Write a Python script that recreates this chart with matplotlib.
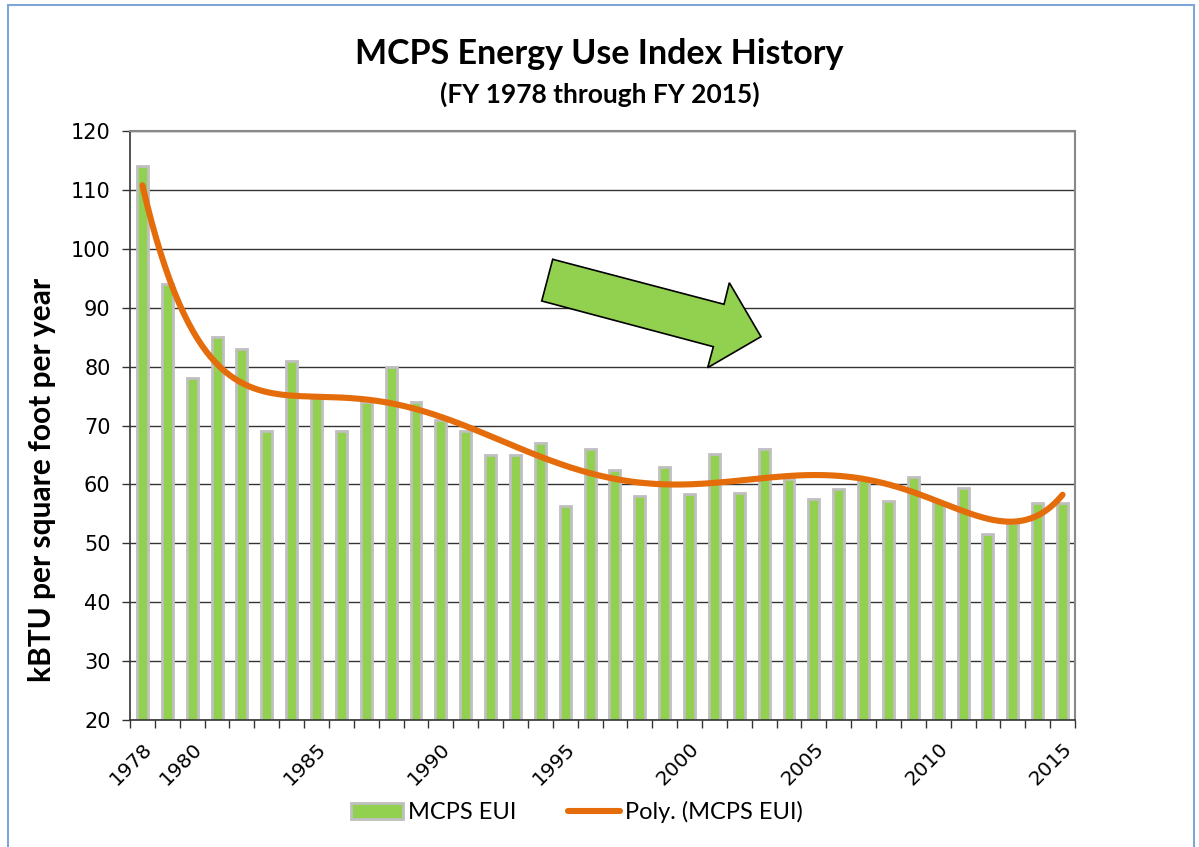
"""
MCPS Energy Use Index history: annual EUI bars with a polynomial trendline.
"""

import matplotlib
matplotlib.use("Agg")
import matplotlib.pyplot as plt
import numpy as np
from matplotlib.lines import Line2D
from matplotlib.patches import Patch, Polygon, Rectangle

# fiscal years and energy use index (kBTU per sq ft per year)
years = list(range(1978, 2016))
eui = [
    114.0, 94.0, 78.0, 85.0, 83.0, 69.0, 81.0, 75.0, 69.0, 74.0,
    80.0, 74.0, 71.0, 69.0, 65.0, 65.0, 67.0, 56.3, 66.0, 62.4,
    58.0, 63.0, 58.3, 65.2, 58.5, 66.0, 61.0, 57.5, 59.2, 60.7,
    57.1, 61.2, 57.0, 59.4, 51.5, 53.5, 56.8, 56.8,
]
labelled_years = [1978, 1980, 1985, 1990, 1995, 2000, 2005, 2010, 2015]
y_ticks = list(range(20, 121, 10))
poly_order = 6

BAR_GREEN = "#92D050"
BAR_EDGE = "#BFBFBF"
TREND_ORANGE = "#E46C0A"
NARROW = ["Lato", "DejaVu Sans"]

fig = plt.figure(figsize=(11.99, 8.47), dpi=100)
ax = fig.add_axes([130 / 1199, 1 - 720 / 847, 945 / 1199, 589 / 847])

x = np.arange(len(years))
ax.bar(x, eui, width=0.44, color=BAR_GREEN, edgecolor=BAR_EDGE, linewidth=2.0, zorder=2)

# Excel-style polynomial trendline (order 6) fitted on category index 1..n
xi = x + 1.0
coef = np.polyfit(xi, eui, poly_order)
xs = np.linspace(xi[0], xi[-1], 400)
ax.plot(xs - 1, np.polyval(coef, xs), color=TREND_ORANGE, lw=4.4,
        solid_capstyle="round", zorder=3)

ax.set_xlim(-0.5, len(years) - 0.5)
ax.set_ylim(20, 120)
ax.set_yticks(y_ticks)
ax.set_yticklabels([str(v) for v in y_ticks], fontsize=15, family="DejaVu Sans")
ax.yaxis.grid(True, color="#333333", lw=1.0, zorder=0)
ax.set_axisbelow(True)

ax.set_xticks([years.index(yr) for yr in labelled_years])
ax.set_xticklabels([str(yr) for yr in labelled_years], rotation=45, ha="right",
                   rotation_mode="anchor", fontsize=14.5, family="DejaVu Sans")
ax.set_xticks(np.arange(-0.5, len(years)), minor=True)
ax.tick_params(axis="x", which="major", length=0, pad=14)
ax.tick_params(axis="x", which="minor", length=6, width=1, color="#333333", direction="out")
ax.tick_params(axis="y", length=6, width=1, color="#333333", direction="out", pad=8)

for side in ("left", "bottom"):
    ax.spines[side].set_color("#333333")
    ax.spines[side].set_linewidth(1.2)
for side in ("top", "right"):
    ax.spines[side].set_color("#888888")
    ax.spines[side].set_linewidth(1.5)

ax.set_ylabel("kBTU per square foot per year", fontsize=21.5, fontweight="bold",
              family=NARROW, va="center")
ax.yaxis.set_label_coords(-0.093, 0.407)

# decorative "downward trend" block arrow
arrow = Polygon(
    [(0.4473, 0.7822), (0.6286, 0.7058), (0.6342, 0.7424), (0.6677, 0.6508),
     (0.6113, 0.5982), (0.6173, 0.6338), (0.4357, 0.7114)],
    closed=True, transform=ax.transAxes, facecolor=BAR_GREEN,
    edgecolor="black", lw=1.2, zorder=4,
)
ax.add_patch(arrow)

fig.text(0.5, 1 - 54 / 847, "MCPS Energy Use Index History", ha="center", va="center",
         fontsize=24.5, fontweight="bold", family=NARROW)
fig.text(0.5, 1 - 94 / 847, "(FY 1978 through FY 2015)", ha="center", va="center",
         fontsize=19, fontweight="bold", family=NARROW)

handles = [
    Patch(facecolor=BAR_GREEN, edgecolor=BAR_EDGE, linewidth=2.0),
    Line2D([0], [0], color=TREND_ORANGE, lw=4.4, solid_capstyle="round"),
]
fig.legend(handles, ["MCPS EUI", "Poly. (MCPS EUI)"], loc="center",
           bbox_to_anchor=(0.481, 1 - 812 / 847), ncol=2, frameon=False,
           prop={"family": NARROW, "size": 17}, handlelength=2.2,
           handletextpad=0.2, columnspacing=2.2)

# outer chart frame
fig.patches.append(Rectangle((8 / 1199, -0.02), 1186 / 1199, 1 - 5 / 847 + 0.02,
                             transform=fig.transFigure, fill=False,
                             edgecolor="#7EA6D8", lw=1.5))

fig.savefig("out.png", dpi=100)
